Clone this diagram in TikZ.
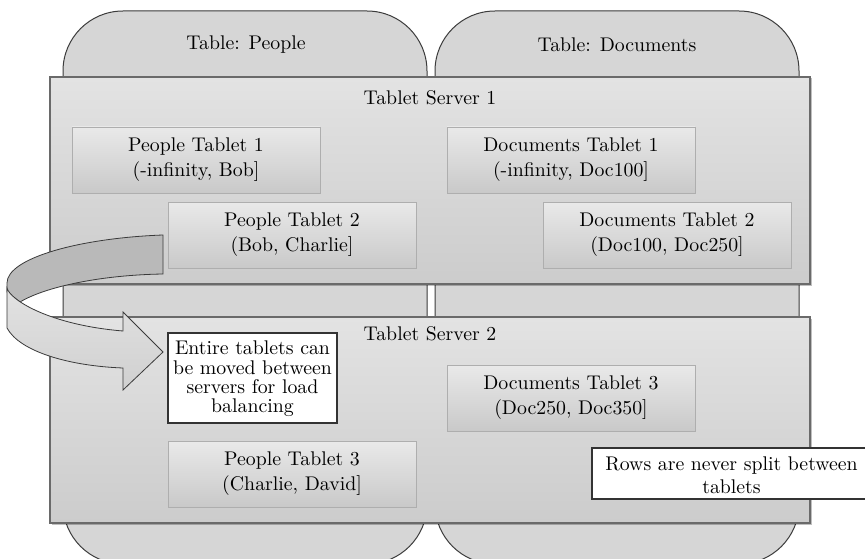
\documentclass[tikz,border=0pt]{standalone}
\usepackage{fontspec}
\setmainfont{lmroman10-regular}[Extension=.otf]
\usetikzlibrary{shadows}
\definecolor{tablefill}{HTML}{D6D6D6}
\definecolor{tableline}{HTML}{3C3C3C}
\definecolor{srvtop}{HTML}{E3E3E3}
\definecolor{srvbot}{HTML}{CCCCCC}
\definecolor{srvline}{HTML}{6A6A6A}
\definecolor{tabtop}{HTML}{E9E9E9}
\definecolor{tabbot}{HTML}{C9C9C9}
\definecolor{tabline}{HTML}{AEAEAE}
\definecolor{arrowback}{HTML}{B9B9B9}
\definecolor{arrowtop}{HTML}{E2E2E2}
\definecolor{arrowbot}{HTML}{D0D0D0}
\definecolor{arrowline}{HTML}{3A3A3A}
\definecolor{notebox}{HTML}{333333}
\tikzset{
  txt/.style={font=\fontsize{19.8}{25}\selectfont, align=center, inner sep=0pt},
  tablebox/.style={fill=tablefill, draw=tableline, line width=1pt, rounded corners=60pt},
  serverbox/.style={draw=srvline, line width=1.2pt, top color=srvtop, bottom color=srvbot,
    inner sep=0pt, drop shadow={shadow xshift=1.5pt, shadow yshift=-1.5pt, opacity=0.25, fill=black}},
  tabletbox/.style={txt, draw=tabline, line width=0.8pt, top color=tabtop, bottom color=tabbot,
    minimum width=248pt, minimum height=66pt,
    drop shadow={shadow xshift=1.2pt, shadow yshift=-1.2pt, opacity=0.2, fill=black}},
  notebox/.style={draw=notebox, line width=1.7pt, fill=white, inner sep=0pt},
  arrowedge/.style={draw=arrowline, line width=0.8pt, line join=miter},
}
\begin{document}
\begin{tikzpicture}[x=1pt, y=-1pt]
  \clip (0,0) rectangle (865,559);
  \fill[white] (0,0) rectangle (865,559);

  % the two tables, running behind both servers
  \draw[tablebox] (63,11) rectangle (427,564);
  \draw[tablebox] (435,11) rectangle (799,564);
  \node[txt] (tpeople) at (246,45) {Table: People};
  \node[txt] (tdocs) at (617,45) {Table: Documents};

  % tablet servers
  \node[serverbox, minimum width=760pt, minimum height=207pt] (ts1) at (430,180.5) {};
  \node[serverbox, minimum width=760pt, minimum height=206pt] (ts2) at (430,420) {};
  \node[txt] (ts1title) at (430,98) {Tablet Server 1};
  \node[txt] (ts2title) at (430,334) {Tablet Server 2};

  % tablets on server 1
  \node[tabletbox] (pt1) at (196,160) {People Tablet 1\\(-infinity, Bob]};
  \node[tabletbox] (pt2) at (292,235) {People Tablet 2\\(Bob, Charlie]};
  \node[tabletbox] (dt1) at (571,160) {Documents Tablet 1\\(-infinity, Doc100]};
  \node[tabletbox] (dt2) at (667,235) {Documents Tablet 2\\(Doc100, Doc250]};

  % tablets on server 2
  \node[tabletbox] (dt3) at (571,398) {Documents Tablet 3\\(Doc250, Doc350]};
  \node[tabletbox] (pt3) at (292,474) {People Tablet 3\\(Charlie, David]};

  % curved arrow: back band first, then the front band with its head
  \path[arrowedge, fill=arrowback]
    (163,235) .. controls (80,238) and (7,258) .. (7,283)
    -- (7,292) -- (20,302)
    .. controls (45,287) and (100,275) .. (163,274) -- cycle;
  \path[arrowedge, top color=arrowtop, bottom color=arrowbot]
    (7,288) .. controls (10,300) and (50,325) .. (123,331)
    -- (123,312) -- (163,352) -- (123,390) -- (123,368)
    .. controls (70,366) and (20,352) .. (7,328) -- cycle;

  % notes
  \node[notebox, minimum width=169pt, minimum height=90pt] (move) at (252.5,378) {};
  \node[txt, font=\fontsize{19.8}{19.4}\selectfont] (movetext) at (252.5,379)
    {Entire tablets can\\be moved between\\servers for load\\balancing};
  \node[notebox, minimum width=279pt, minimum height=51pt] (rows) at (731.5,473.5) {};
  \node[txt, font=\fontsize{19.8}{22.5}\selectfont] (rowstext) at (731.5,475)
    {Rows are never split between\\tablets};
\end{tikzpicture}
\end{document}
